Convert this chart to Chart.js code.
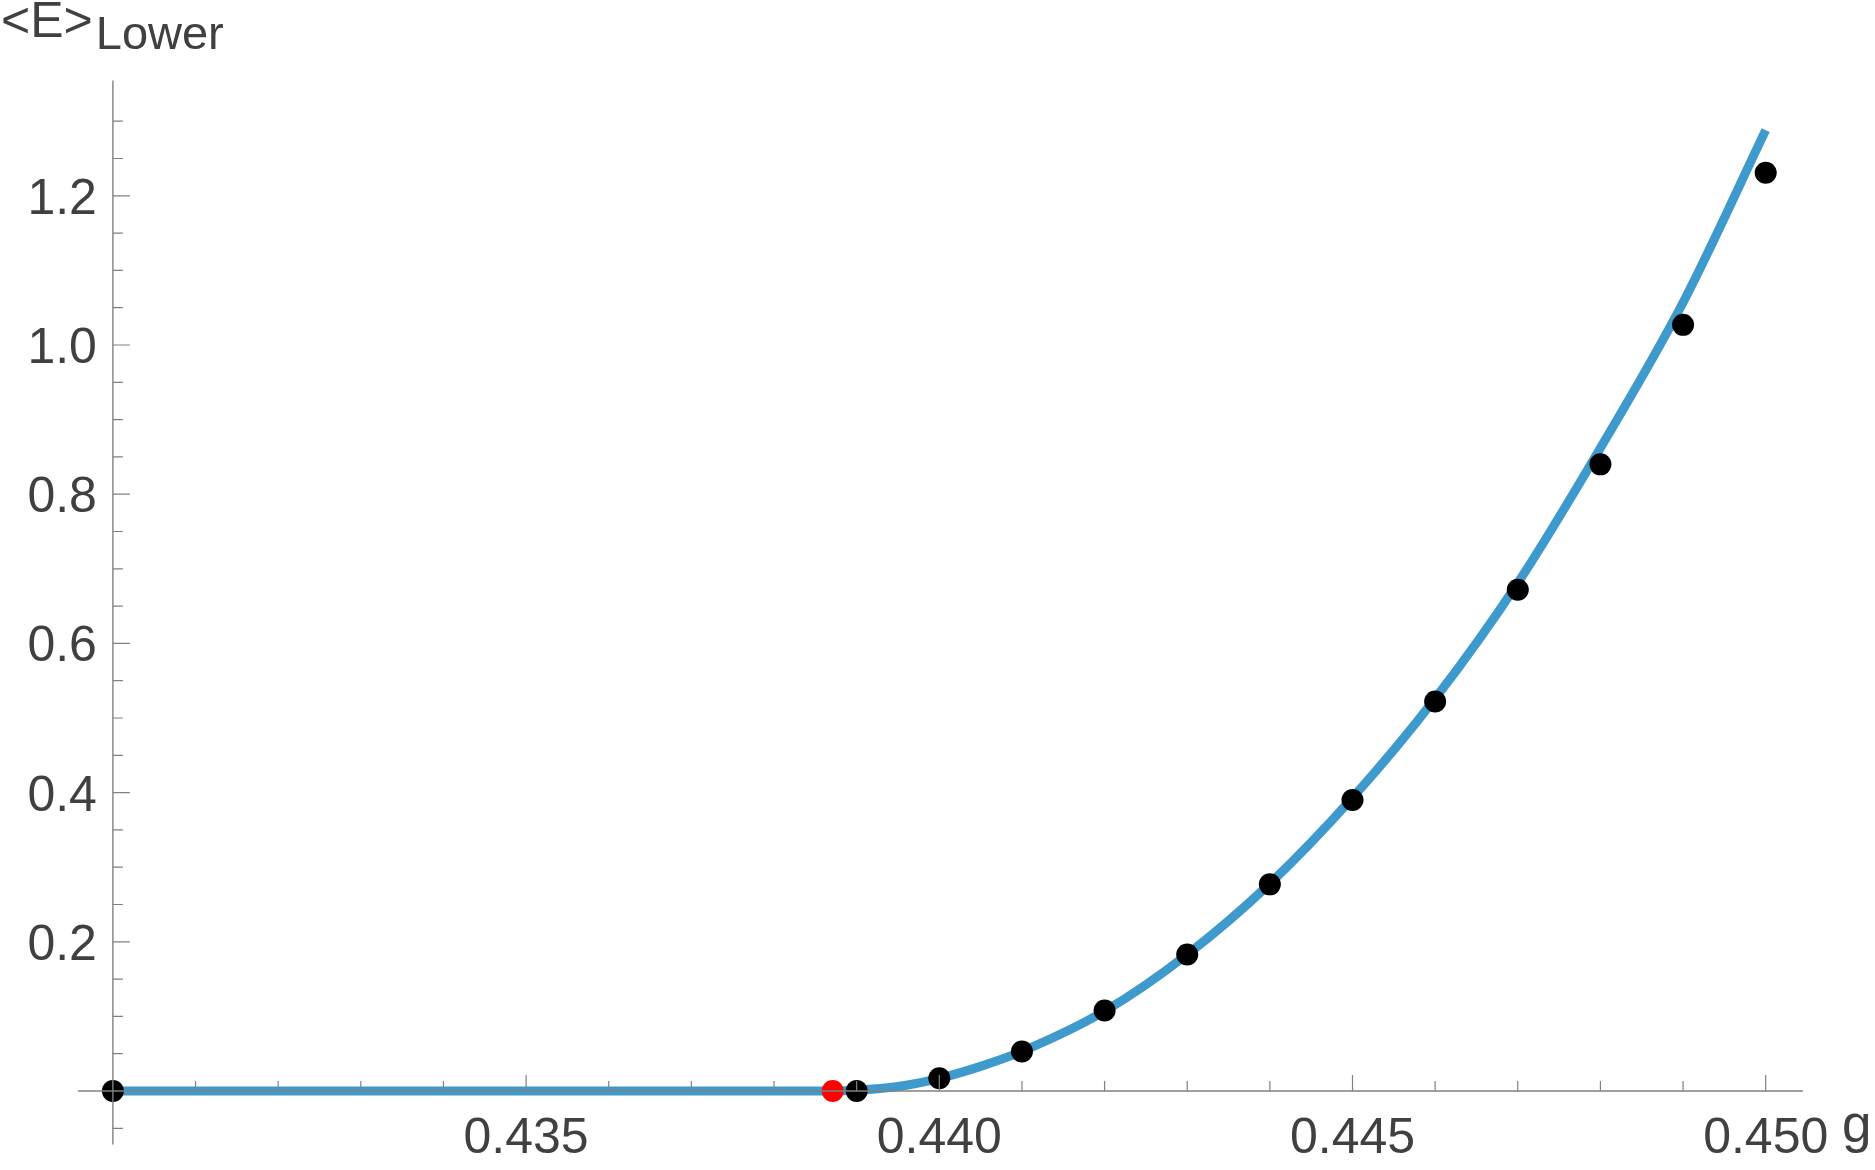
<!DOCTYPE html>
<html>
<head>
<meta charset="utf-8">
<title>&lt;E&gt;Lower vs g</title>
<script src="https://cdn.jsdelivr.net/npm/chart.js@4.4.1/dist/chart.umd.min.js"></script>
<style>
  html, body { margin: 0; padding: 0; background: #ffffff; }
  #wrap { width: 1875px; height: 1170px; }
</style>
</head>
<body>
<div id="wrap"><canvas id="energyChart" width="1875" height="1170"></canvas></div>
<script>
// ==========================================
//  DATA
// ==========================================
// fitted curve
const curveG = [0.4300, 0.4387, 0.4390, 0.4395, 0.4400, 0.4405, 0.4410, 0.4420, 0.4430, 0.4440, 0.4450, 0.4460, 0.4470, 0.4480, 0.4490, 0.4500];
const curveE = [0, 0, 0.001, 0.006, 0.017, 0.033, 0.053, 0.107, 0.183, 0.278, 0.393, 0.526, 0.681, 0.862, 1.057, 1.288];

// measured points (black)
const pointG = [0.430, 0.439, 0.440, 0.441, 0.442, 0.443, 0.444, 0.445, 0.446, 0.447, 0.448, 0.449, 0.450];
const pointE = [0, 0, 0.017, 0.053, 0.108, 0.183, 0.277, 0.390, 0.522, 0.672, 0.840, 1.027, 1.231];

// critical point (red)
const criticalG = [0.43871];
const criticalE = [0];

// tick labels
const xTickValues = [0.435, 0.440, 0.445, 0.450];
const xTickLabels = ['0.435', '0.440', '0.445', '0.450'];
const yTickValues = [0.2, 0.4, 0.6, 0.8, 1.0, 1.2];
const yTickLabels = ['0.2', '0.4', '0.6', '0.8', '1.0', '1.2'];

const toXY = (xs, ys) => xs.map((v, i) => ({ x: v, y: ys[i] }));

// ==========================================
//  AXES DRAWN AT THE ORIGIN (Mathematica style)
// ==========================================
const LABEL_FONT = '"Liberation Sans", Arial, Helvetica, sans-serif';
const AXIS_COLOR = '#808080';
const TEXT_COLOR = '#404040';

const originAxes = {
    id: 'originAxes',
    afterDatasetsDraw(chart) {
        const { ctx } = chart;
        const xs = chart.scales.x;
        const ys = chart.scales.y;
        const x0 = xs.getPixelForValue(0.43);
        const y0 = ys.getPixelForValue(0);

        ctx.save();
        ctx.strokeStyle = AXIS_COLOR;
        ctx.lineWidth = 1.4;

        // axis lines
        ctx.beginPath();
        ctx.moveTo(xs.getPixelForValue(0.42958), y0);
        ctx.lineTo(xs.getPixelForValue(0.45045), y0);
        ctx.moveTo(x0, ys.getPixelForValue(-0.0716));
        ctx.lineTo(x0, ys.getPixelForValue(1.3547));
        ctx.stroke();

        // x ticks every 0.001, pointing up
        ctx.lineWidth = 1.2;
        ctx.beginPath();
        for (let i = 1; i <= 20; i++) {
            const px = xs.getPixelForValue(0.43 + i * 0.001);
            const len = (i % 5 === 0) ? 16 : 10;
            ctx.moveTo(px, y0);
            ctx.lineTo(px, y0 - len);
        }
        // y ticks every 0.05, pointing right
        for (let k = -1; k <= 26; k++) {
            if (k === 0) continue;
            const py = ys.getPixelForValue(k * 0.05);
            const len = (k % 4 === 0) ? 17 : 10;
            ctx.moveTo(x0, py);
            ctx.lineTo(x0 + len, py);
        }
        ctx.stroke();

        // tick labels
        ctx.fillStyle = TEXT_COLOR;
        ctx.font = '50px ' + LABEL_FONT;
        ctx.textBaseline = 'alphabetic';
        ctx.textAlign = 'center';
        xTickValues.forEach((v, i) => {
            ctx.fillText(xTickLabels[i], xs.getPixelForValue(v), y0 + 62);
        });
        ctx.textAlign = 'right';
        yTickValues.forEach((v, i) => {
            ctx.fillText(yTickLabels[i], x0 - 16, ys.getPixelForValue(v) + 18);
        });

        // axis titles
        ctx.textAlign = 'left';
        ctx.fillText('<E>', 1, 37);
        const w = ctx.measureText('<E>').width;
        ctx.font = '47px ' + LABEL_FONT;
        ctx.fillText('Lower', 1 + w + 3, 49);
        ctx.font = '53px ' + LABEL_FONT;
        ctx.fillText('g', 1842, 1142);

        ctx.restore();
    }
};

// ==========================================
//  CHART
// ==========================================
new Chart(document.getElementById('energyChart'), {
    type: 'scatter',
    data: {
        datasets: [
            {
                type: 'line',
                label: 'fit',
                data: toXY(curveG, curveE),
                borderColor: 'rgb(62, 154, 205)',
                borderWidth: 9,
                borderCapStyle: 'butt',
                pointRadius: 0,
                cubicInterpolationMode: 'monotone',
                fill: false,
                clip: false,
                order: 3
            },
            {
                label: 'points',
                data: toXY(pointG, pointE),
                backgroundColor: '#000000',
                borderWidth: 0,
                pointRadius: 11,
                clip: false,
                order: 2
            },
            {
                label: 'critical',
                data: toXY(criticalG, criticalE),
                backgroundColor: '#ff0000',
                borderWidth: 0,
                pointRadius: 11,
                clip: false,
                order: 1
            }
        ]
    },
    options: {
        responsive: false,
        animation: false,
        events: [],
        layout: { padding: { left: 112.9, right: 109.3, top: 121.2, bottom: 79 } },
        plugins: { legend: { display: false }, tooltip: { enabled: false } },
        scales: {
            x: { type: 'linear', min: 0.43, max: 0.45, display: false },
            y: { type: 'linear', min: 0, max: 1.3, display: false }
        }
    },
    plugins: [originAxes]
});
</script>
</body>
</html>
